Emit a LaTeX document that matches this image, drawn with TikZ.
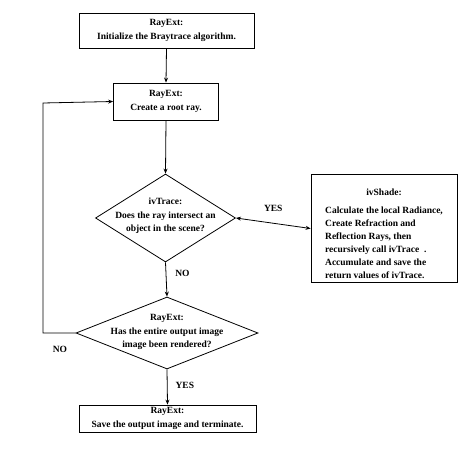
\documentclass[tikz,border=0pt]{standalone}
\usepackage{fontspec}
\setmainfont{Liberation Serif}
\usetikzlibrary{shapes.geometric,arrows.meta}
\begin{document}
\begin{tikzpicture}[x=1pt,y=-1pt,
  every node/.style={font=\fontsize{9.5}{13.5}\selectfont\bfseries},
  box/.style={draw,line width=0.8pt,rectangle,align=center,inner sep=0pt},
  dia/.style={draw,line width=0.8pt,diamond,inner sep=0pt},
  txt/.style={align=center,inner sep=0pt},
  arr/.style={line width=0.8pt,-{Stealth[length=5pt,width=4pt]}},
  lbl/.style={inner sep=1pt}]
\useasboundingbox (0,0) rectangle (461,449);
\node[box,minimum width=175pt,minimum height=35pt] (b1) at (166.5,30.5)
  {RayExt:\\Initialize the Braytrace algorithm.};
\node[box,minimum width=105pt,minimum height=37pt] (b2) at (166,101.5)
  {RayExt:\\Create a root ray.};
\node[dia,minimum width=140pt,minimum height=88pt] (d1) at (165.5,218) {};
\node[txt] (d1t) at (165.5,216) {ivTrace:\\Does the ray intersect an\\object in the scene?};
\node[box,minimum width=146pt,minimum height=103pt] (sh) at (384,228.5)
  {\renewcommand{\arraystretch}{0.97}\begin{tabular}{@{}l@{}}\multicolumn{1}{@{}c@{}}{\rule{0pt}{21pt}ivShade:}\\[5pt]
   Calculate the local Radiance,\\ Create Refraction and\\ Reflection Rays, then\\
   recursively call ivTrace\ \ .\\ Accumulate and save the\\ return values of ivTrace.\end{tabular}};
\node[dia,minimum width=182pt,minimum height=72pt] (d2) at (167,333) {};
\node[txt] (d2t) at (167,332) {RayExt:\\Has the entire output image\\image been rendered?};
\node[box,minimum width=177pt,minimum height=27pt] (b3) at (167.5,418.5)
  {RayExt:\\Save the output image and terminate.};
\coordinate (c1) at (43,333);
\coordinate (c2) at (43,103);
\draw[arr] (b1.south) -- (b2.north);
\draw[arr] (b2.south) -- (d1.north);
\draw[line width=0.8pt,{Stealth[length=5pt,width=4pt]}-{Stealth[length=5pt,width=4pt]}] (d1.east) -- (sh.west)
  node[lbl,pos=0.5,above=10pt] (yes1) {YES};
\draw[arr] (d1.south) -- (d2.north) node[lbl,pos=0.32,right=8pt] (no1) {NO};
\draw[arr] (d2.west) -- (c1) -- (c2) -- (b2.west);
\node[lbl] (no2) at (60,349) {NO};
\draw[arr] (d2.south) -- (b3.north) node[lbl,pos=0.45,right=7pt] (yes2) {YES};
\end{tikzpicture}
\end{document}
